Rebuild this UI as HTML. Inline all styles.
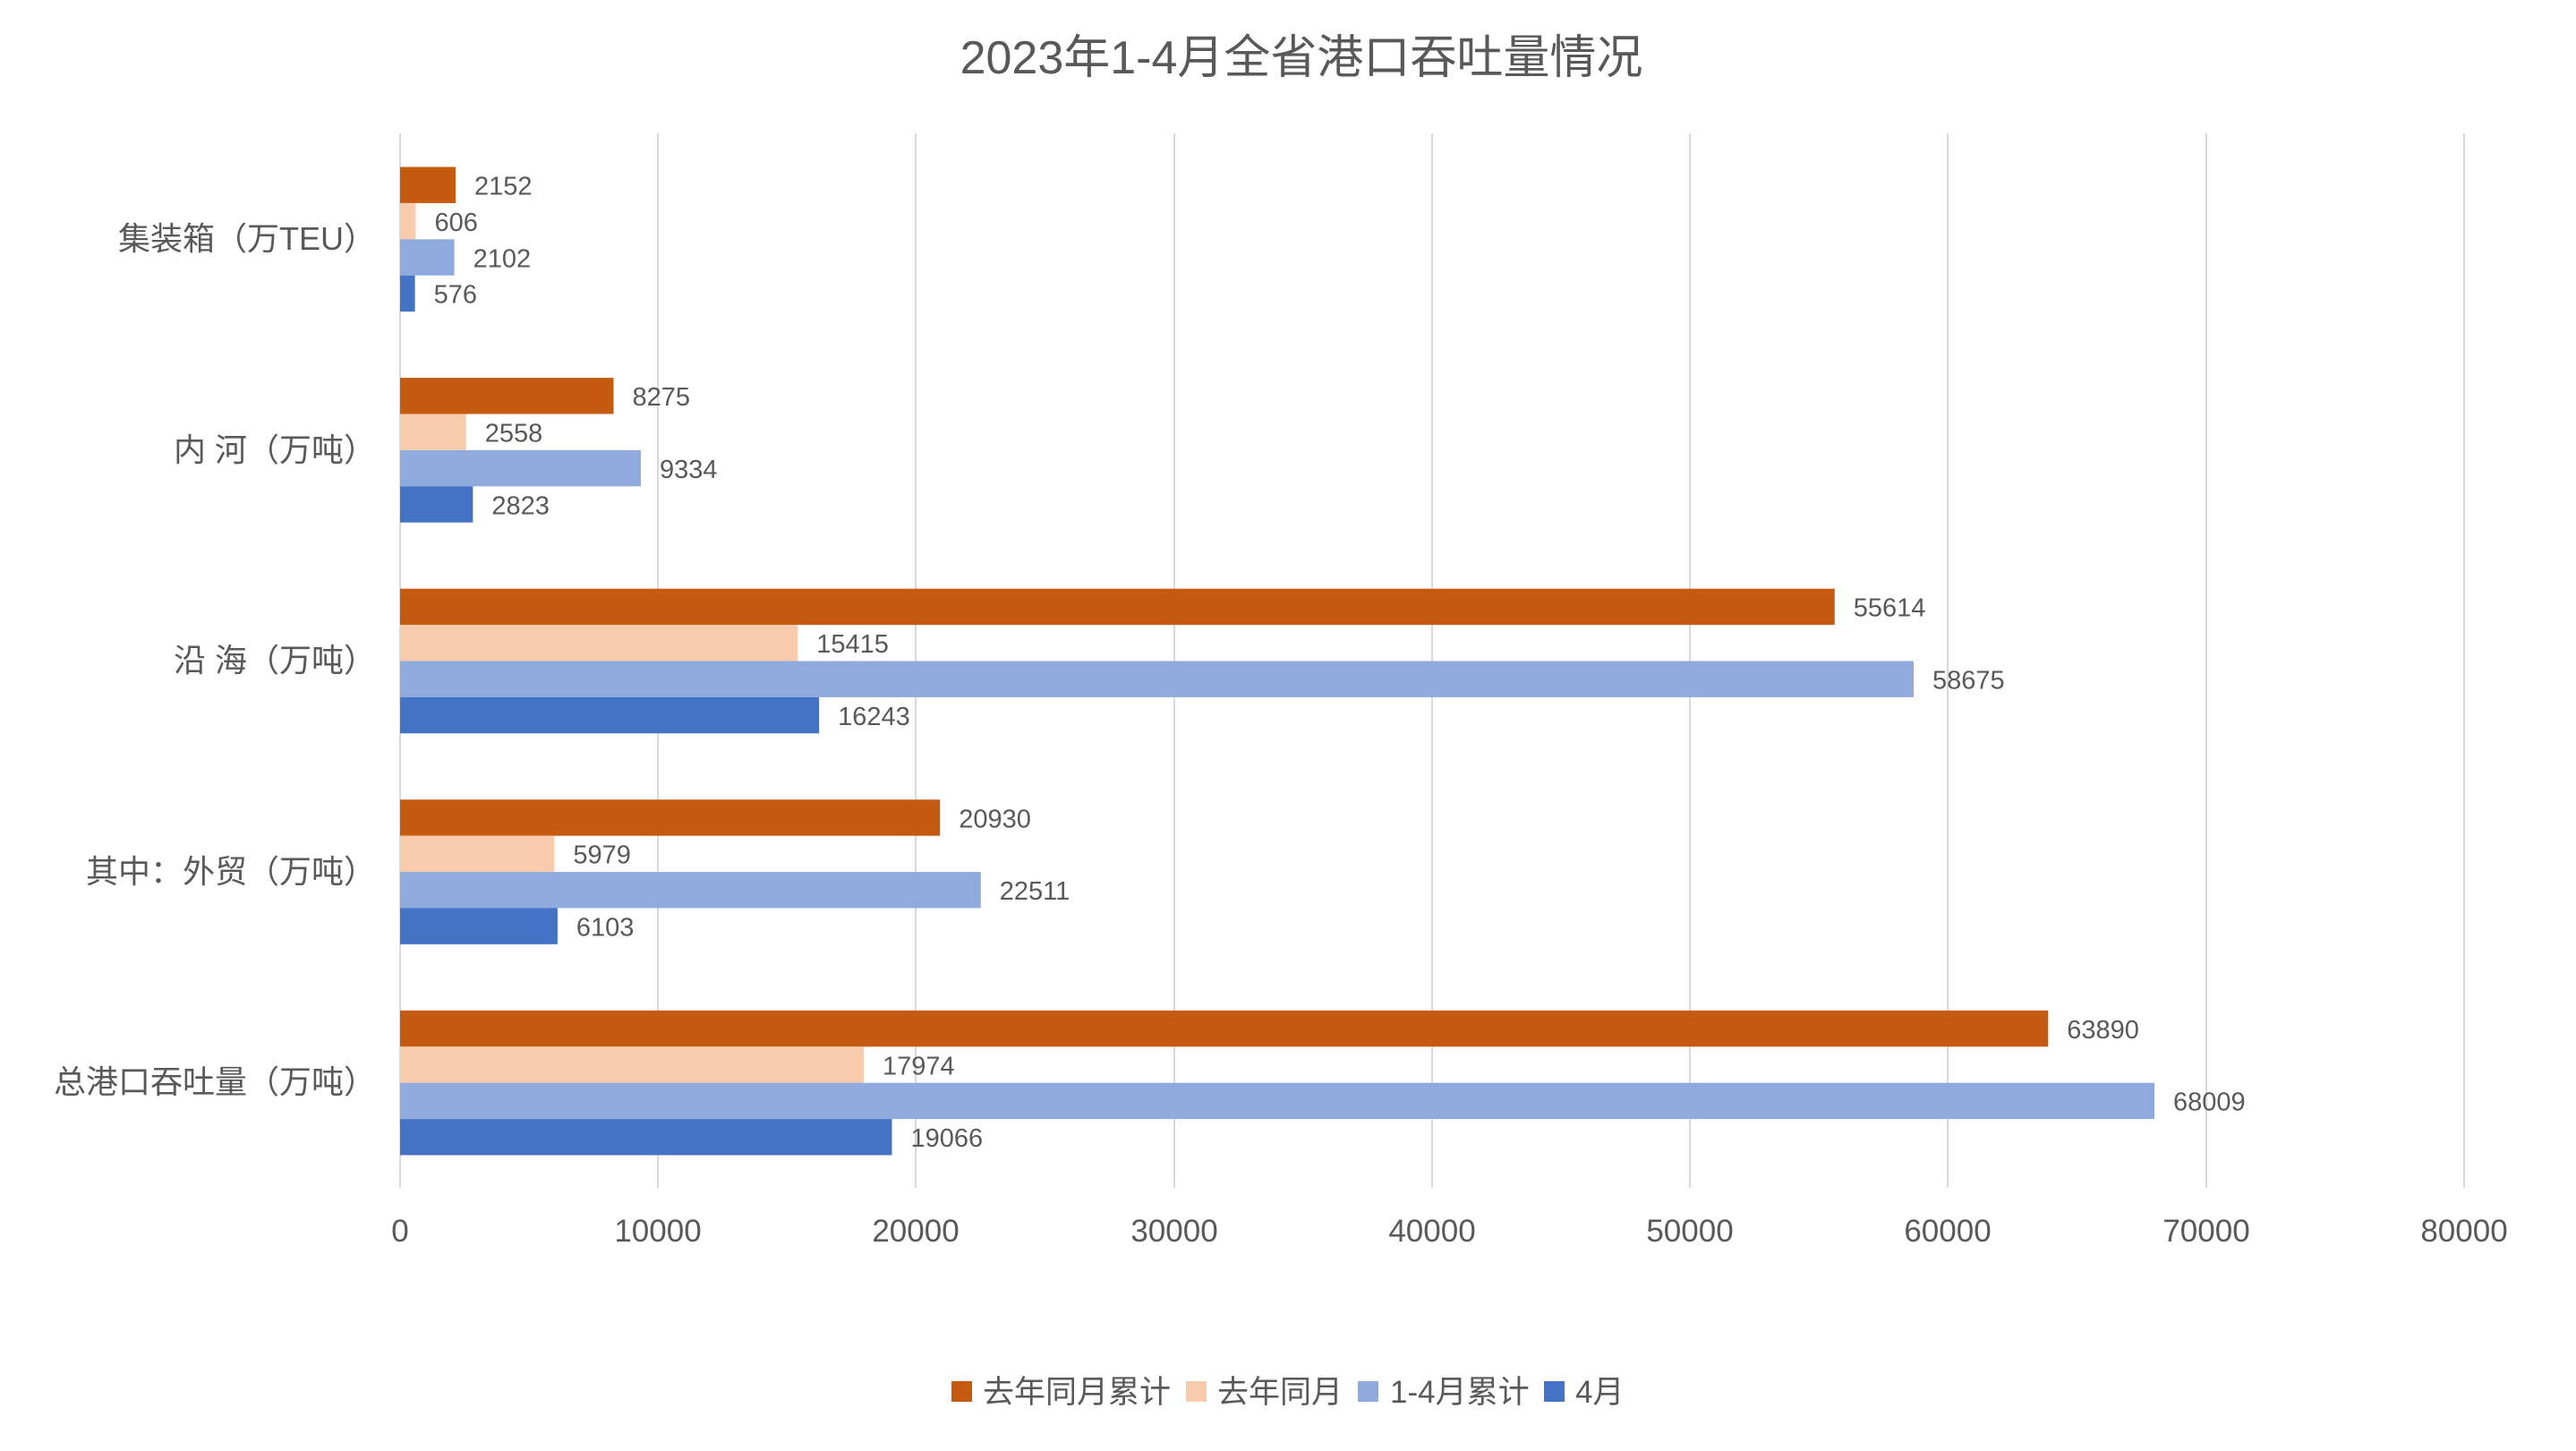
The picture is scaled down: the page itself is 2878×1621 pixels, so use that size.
<!DOCTYPE html>
<html><head><meta charset="utf-8"><style>
html,body{margin:0;padding:0;background:#fff;}
svg text{font-family:"Liberation Sans","Noto Sans CJK SC",sans-serif;fill:#595959;}
</style></head><body>
<svg width="2878" height="1616" viewBox="0 0 2878 1616" xmlns="http://www.w3.org/2000/svg">
<rect width="2878" height="1616" fill="#fff"/>
<text x="1454" y="82" font-size="52" text-anchor="middle">2023年1-4月全省港口吞吐量情况</text>
<g stroke="#d9d9d9" stroke-width="2">
<line x1="447" y1="149" x2="447" y2="1327"/>
<line x1="735" y1="149" x2="735" y2="1327"/>
<line x1="1023" y1="149" x2="1023" y2="1327"/>
<line x1="1312" y1="149" x2="1312" y2="1327"/>
<line x1="1600" y1="149" x2="1600" y2="1327"/>
<line x1="1888" y1="149" x2="1888" y2="1327"/>
<line x1="2176" y1="149" x2="2176" y2="1327"/>
<line x1="2465" y1="149" x2="2465" y2="1327"/>
<line x1="2753" y1="149" x2="2753" y2="1327"/>
</g>
<g font-size="35" text-anchor="middle">
<text x="447" y="1387">0</text><text x="735" y="1387">10000</text><text x="1023" y="1387">20000</text><text x="1312" y="1387">30000</text><text x="1600" y="1387">40000</text><text x="1888" y="1387">50000</text><text x="2176" y="1387">60000</text><text x="2465" y="1387">70000</text><text x="2753" y="1387">80000</text>
</g>
<g font-size="36" text-anchor="end">
<text x="420" y="279">集装箱（万TEU）</text>
<text x="420" y="515">内 河（万吨）</text>
<text x="420" y="750">沿 海（万吨）</text>
<text x="420" y="986">其中：外贸（万吨）</text>
<text x="420" y="1221">总港口吞吐量（万吨）</text>
</g>
<g id="bars"></g>
<g id="labels" font-size="29"></g>
<rect x="1063" y="1543" width="23" height="23" fill="#C55A11"/>
<rect x="1325" y="1543" width="23" height="23" fill="#F8CBAD"/>
<rect x="1517" y="1543" width="23" height="23" fill="#8FAADC"/>
<rect x="1725" y="1543" width="23" height="23" fill="#4472C4"/>
<g font-size="35">
<text x="1098" y="1567">去年同月累计</text>
<text x="1360" y="1567">去年同月</text>
<text x="1553" y="1567">1-4月累计</text>
<text x="1760" y="1567">4月</text>
</g>
<script>
var data=[[2152,606,2102,576],[8275,2558,9334,2823],[55614,15415,58675,16243],[20930,5979,22511,6103],[63890,17974,68009,19066]];
var cols=["#C55A11","#F8CBAD","#8FAADC","#4472C4"];
var ns="http://www.w3.org/2000/svg",b=document.getElementById("bars"),l=document.getElementById("labels");
for(var g=0;g<5;g++)for(var s=0;s<4;s++){var v=data[g][s],y=186.5+g*235.6+s*40.4,w=v*0.02882;
var r=document.createElementNS(ns,"rect");r.setAttribute("x",447);r.setAttribute("y",y);r.setAttribute("width",w);r.setAttribute("height",40.4);r.setAttribute("fill",cols[s]);b.appendChild(r);
var t=document.createElementNS(ns,"text");t.setAttribute("x",447+w+21);t.setAttribute("y",y+31);t.textContent=v;l.appendChild(t);}
</script>
</svg>
</body></html>
